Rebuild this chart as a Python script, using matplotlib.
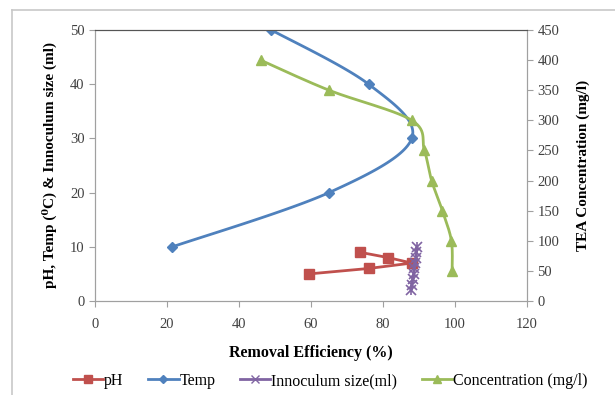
import numpy as np
import matplotlib.pyplot as plt
from matplotlib.lines import Line2D

plt.rcParams['font.family'] = ['Liberation Serif', 'DejaVu Serif']

# removal efficiency (%) vs parameter
ph_eff = [59.5, 76, 88, 81.5, 73.5]
ph_val = [5, 6, 7, 8, 9]

temp_eff = [21.5, 65, 88, 76, 49]
temp_val = [10, 20, 30, 40, 50]

inoc_eff = [87.8, 88.0, 88.2, 88.5, 88.7, 89.0, 89.2, 89.3, 89.4]
inoc_val = [2, 3, 4, 5, 6, 7, 8, 9, 10]

conc_eff = [46, 65, 88, 91.5, 93.5, 96.5, 99, 99.2]
conc_val = [400, 350, 300, 250, 200, 150, 100, 50]

x_ticks = [0, 20, 40, 60, 80, 100, 120]
y_ticks = [0, 10, 20, 30, 40, 50]
y2_ticks = list(range(0, 451, 50))


def smooth(xs, ys, n=30):
    # Catmull-Rom through the points, like Excel's smoothed line
    p = np.column_stack([xs, ys]).astype(float)
    p = np.vstack([p[0], p, p[-1]])
    out = []
    for i in range(1, len(p) - 2):
        p0, p1, p2, p3 = p[i - 1], p[i], p[i + 1], p[i + 2]
        t = np.linspace(0, 1, n)[:, None]
        c = 0.5 * ((2 * p1) + (-p0 + p2) * t + (2 * p0 - 5 * p1 + 4 * p2 - p3) * t ** 2
                   + (-p0 + 3 * p1 - 3 * p2 + p3) * t ** 3)
        out.append(c)
    c = np.vstack(out)
    return c[:, 0], c[:, 1]


red = '#C0504D'
blue = '#4F81BD'
purple = '#8064A2'
green = '#9BBB59'

fig = plt.figure(figsize=(6.15, 3.95), dpi=100)
ax = fig.add_axes([95 / 615, 1 - 301 / 395, 432 / 615, 271 / 395])
ax2 = ax.twinx()

# outer frame
fig.add_artist(Line2D([12 / 615, 12 / 615], [0, 1 - 10 / 395], color='#c8c8c8', lw=1.2,
                      transform=fig.transFigure))
fig.add_artist(Line2D([12 / 615, 1], [1 - 10 / 395, 1 - 10 / 395], color='#c8c8c8', lw=1.2,
                      transform=fig.transFigure))

ax.plot(ph_eff, ph_val, color=red, lw=2, marker='s', ms=7, zorder=3)
sx, sy = smooth(temp_eff, temp_val)
ax.plot(sx, sy, color=blue, lw=2, zorder=3)
ax.plot(temp_eff, temp_val, ls='none', color=blue, marker='D', ms=5, zorder=3)
ax.plot(inoc_eff, inoc_val, color=purple, lw=2, marker='x', ms=7, mew=1.2, zorder=4)
ax.plot(inoc_eff, inoc_val, ls='none', color=purple, marker='|', ms=7, mew=1.2, zorder=4)

cx, cy = smooth(conc_eff, conc_val)
ax2.plot(cx, cy, color=green, lw=2, zorder=3)
ax2.plot(conc_eff, conc_val, ls='none', color=green, marker='^', ms=7, zorder=3)

ax.set_xlim(0, 120)
ax.set_ylim(0, 50)
ax2.set_ylim(0, 450)
ax.set_xticks(x_ticks)
ax.set_yticks(y_ticks)
ax2.set_yticks(y2_ticks)

for a in (ax, ax2):
    for s in a.spines.values():
        s.set_color('#a0a0a0')
    a.spines['top'].set_color('#555555')
    a.tick_params(colors='#a0a0a0', labelcolor='#404040', labelsize=10.5, length=4)
    a.set_facecolor('none')
ax.tick_params(axis='x', pad=8)

ax.set_xlabel('Removal Efficiency (%)', fontweight='bold', fontsize=11.5, labelpad=10)
ax.set_ylabel('pH, Temp (\u2070C) & Innoculum size (ml)', fontweight='bold', fontsize=11,
              labelpad=9)
ax2.set_ylabel('TEA Concentration (mg/l)', fontweight='bold', fontsize=11, labelpad=12)

handles = [
    Line2D([], [], color=red, lw=2, marker='s', ms=6),
    Line2D([], [], color=blue, lw=2, marker='D', ms=4.5),
    Line2D([], [], color=purple, lw=2, marker='x', ms=6),
    Line2D([], [], color=green, lw=2, marker='^', ms=6),
]
labels = ['pH', 'Temp', 'Innoculum size(ml)', 'Concentration (mg/l)']
fig.legend(handles, labels, loc='center', bbox_to_anchor=(0.537, 1 - 381 / 395), ncol=4,
           frameon=False, fontsize=11.5, handlelength=1.9, handletextpad=0.05,
           columnspacing=1.55)

fig.savefig('out.png', dpi=100)
